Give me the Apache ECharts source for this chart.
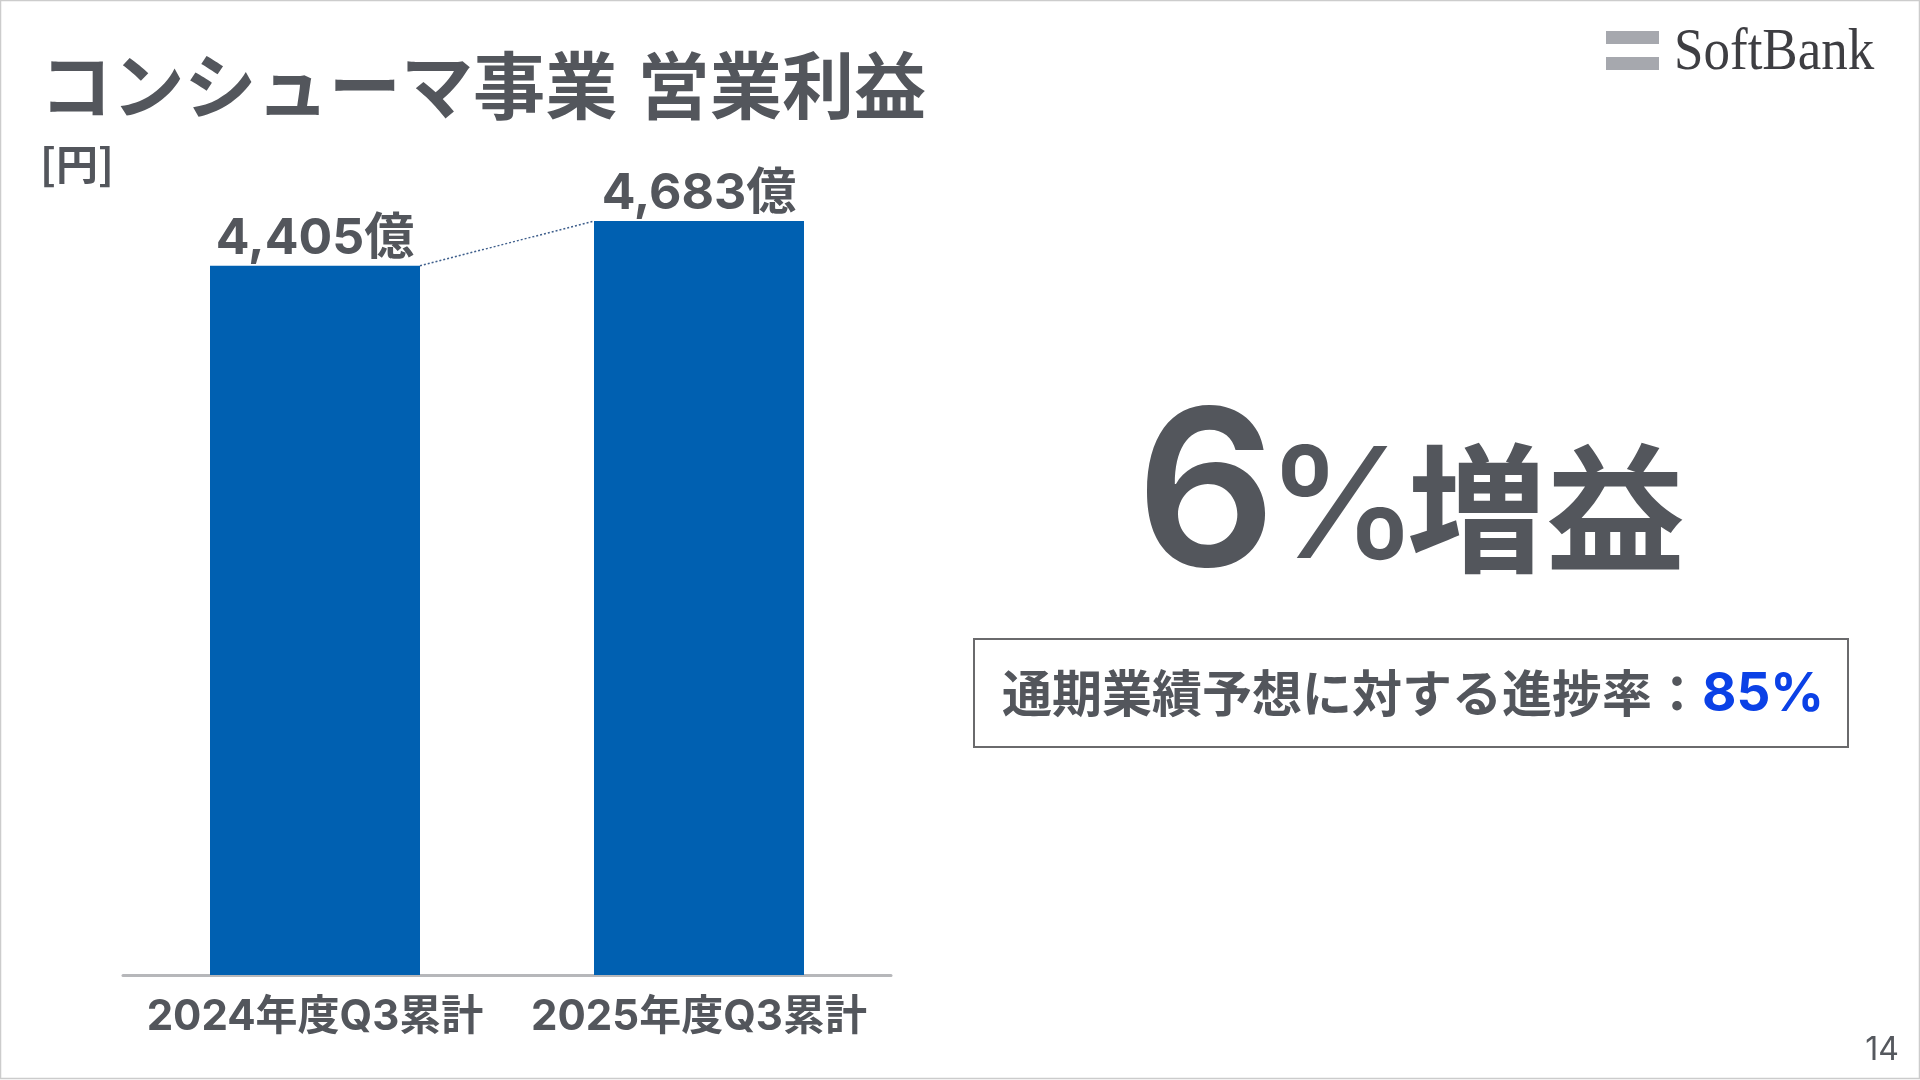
<!DOCTYPE html>
<html lang="ja">
<head>
<meta charset="utf-8">
<title>コンシューマ事業 営業利益</title>
<style>html,body{margin:0;padding:0;background:#fff}#c{width:1920px;height:1080px}</style>
<script src="https://cdn.jsdelivr.net/npm/echarts@6/dist/echarts.min.js"></script>
</head>
<body>
<div id="c"></div>
<script>
const categories = ["2024年度Q3累計", "2025年度Q3累計"];
const profitOku = [4405, 4683];
const titleText = "コンシューマ事業 営業利益";
const unitText = "[円]";
const labelSuffix = "億";
const growthParts = ["6", "%", "増益"];
const progressText = "通期業績予想に対する進捗率：";
const progressValue = "85%";
const pageNumber = "14";
const logoText = "SoftBank";

const INK = "#53565c";
const FONT = 'Inter,"Noto Sans CJK JP",sans-serif';
const BAR_W = 210;

const chart = echarts.init(document.getElementById("c"), null, { renderer: "canvas" });

function txt(x, y, text, font, fill, align, extra) {
  return Object.assign({ type: "text", x, y, z: 10, silent: true,
    style: { text, font, fill, align: align || "left", verticalAlign: "middle" } }, extra || {});
}

chart.setOption({
  animation: false,
  backgroundColor: "#ffffff",
  grid: { left: 123, top: 170, width: 768, height: 805, containLabel: false },
  xAxis: {
    type: "category", data: categories, z: 1,
    axisTick: { show: false },
    axisLine: { lineStyle: { color: "#b6b7ba", width: 3 } },
    axisLabel: { color: INK, fontFamily: FONT, fontWeight: "bold", fontSize: 42, margin: 21, interval: 0 }
  },
  yAxis: { type: "value", min: 0, max: 5000, show: false },
  series: [
    {
      type: "bar", data: profitOku, barWidth: BAR_W, z: 3,
      itemStyle: { color: "#0060b1" },
      label: {
        show: true, position: "top", distance: 2, offset: [0, 0], color: INK, fontFamily: FONT,
        fontWeight: "bold", fontSize: 50,
        formatter: p => p.value.toLocaleString("en-US") + labelSuffix
      }
    },
    {
      type: "custom", silent: true, z: 4,
      data: [[0, profitOku[0], 1, profitOku[1]]],
      encode: { x: 0, y: 1 },
      renderItem(params, api) {
        const a = api.coord([api.value(0), api.value(1)]);
        const b = api.coord([api.value(2), api.value(3)]);
        return {
          type: "line",
          shape: { x1: a[0] + BAR_W / 2, y1: a[1], x2: b[0] - BAR_W / 2, y2: b[1] },
          style: { stroke: "#3f5f8c", lineWidth: 1.5, lineDash: [2, 2] }
        };
      }
    }
  ],
  graphic: [
    { type: "rect", shape: { x: 0.5, y: 0.5, width: 1919, height: 1078 }, silent: true,
      style: { fill: "none", stroke: "#cccccc", lineWidth: 1.5 } },
    txt(40, 93, titleText, '700 72.2px "Liberation Sans","Noto Sans CJK JP",sans-serif', INK),
    txt(40, 164, unitText, '700 42px "Noto Sans CJK JP",sans-serif', INK),
    txt(1136, 500, growthParts[0], '600 219px Inter,sans-serif', INK),
    txt(1266, 512, growthParts[1], '500 154px Inter,sans-serif', INK),
    txt(1407, 508, growthParts[2], '700 139px "Noto Sans CJK JP",sans-serif', INK),
    { type: "rect", shape: { x: 974, y: 639, width: 874, height: 108 }, silent: true,
      style: { fill: "none", stroke: "#6a6a6c", lineWidth: 2 } },
    txt(1002, 693, progressText, '700 50px "Noto Sans CJK JP",sans-serif', INK),
    txt(1702, 695, progressValue, '700 53px Inter,sans-serif', "#0b41e6"),
    { type: "rect", shape: { x: 1606, y: 31, width: 53, height: 13 }, silent: true, style: { fill: "#a6a8ae" } },
    { type: "rect", shape: { x: 1606, y: 57, width: 53, height: 13 }, silent: true, style: { fill: "#a6a8ae" } },
    txt(1674, 54, logoText, '400 53px "Liberation Serif",serif', "#3e3e42", "left", { scaleY: 1.11, originY: 0 }),
    txt(1899, 1050, pageNumber, '400 32px Inter,sans-serif', "#55585e", "right")
  ]
});
</script>
</body>
</html>
